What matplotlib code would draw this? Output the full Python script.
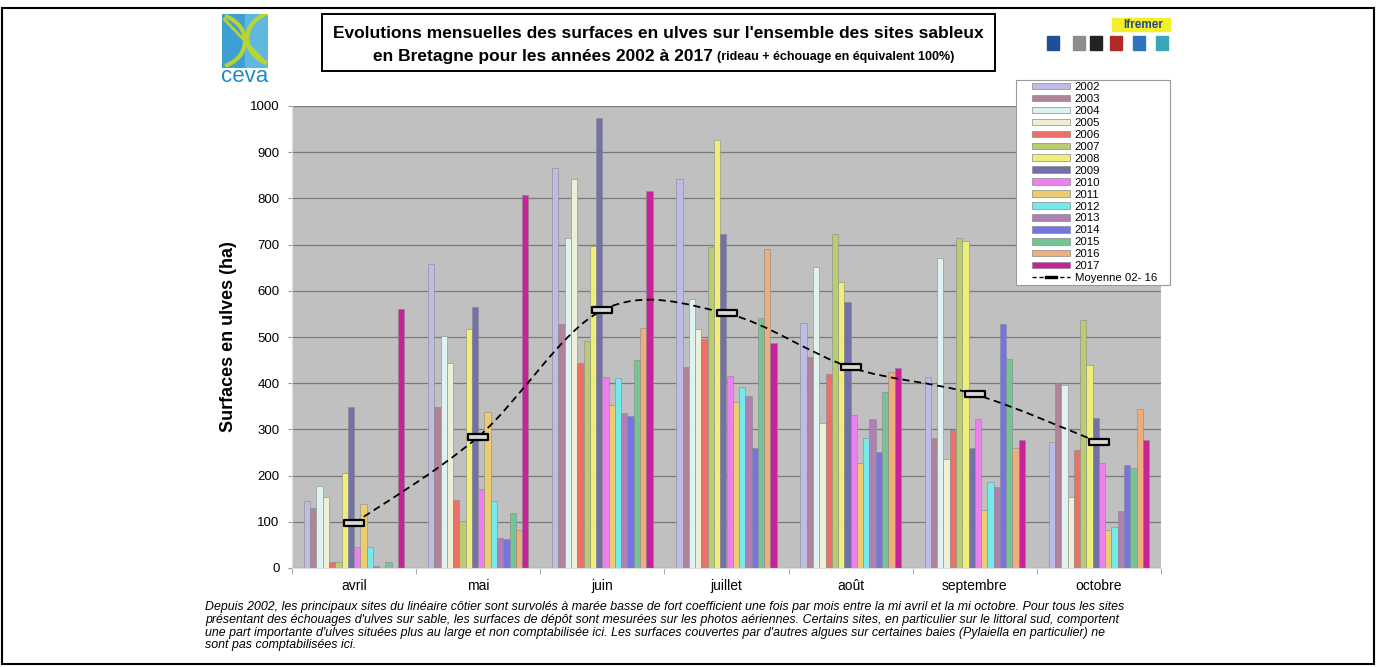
import numpy as np
import matplotlib
matplotlib.use("Agg")
import matplotlib.pyplot as plt
from matplotlib.patches import Rectangle, Patch, PathPatch, Arc
from matplotlib.lines import Line2D
from matplotlib.path import Path

plt.rcParams['font.family'] = ['Liberation Sans', 'DejaVu Sans']

months = ["avril", "mai", "juin", "juillet", "août", "septembre", "octobre"]
years = [str(y) for y in range(2002, 2018)]

# surfaces (ha) per year, one value per month avril..octobre
v2002 = [145, 658, 865, 842, 530, 414, 273]
v2003 = [129, 348, 528, 436, 456, 281, 400]
v2004 = [177, 503, 714, 582, 651, 670, 396]
v2005 = [153, 444, 843, 517, 313, 235, 153]
v2006 = [14, 147, 443, 495, 420, 299, 255]
v2007 = [12, 102, 492, 694, 723, 714, 537]
v2008 = [205, 517, 696, 926, 620, 708, 439]
v2009 = [349, 566, 973, 723, 576, 260, 324]
v2010 = [45, 172, 414, 416, 331, 323, 227]
v2011 = [139, 338, 353, 360, 227, 126, 82]
v2012 = [46, 144, 412, 392, 281, 187, 89]
v2013 = [4, 64, 335, 372, 323, 176, 123]
v2014 = [0, 62, 328, 259, 252, 528, 223]
v2015 = [13, 120, 450, 542, 382, 453, 216]
v2016 = [0, 82, 519, 690, 425, 259, 344]
v2017 = [560, 807, 817, 486, 432, 276, 276]
moyenne = [97, 284, 558, 551, 434, 376, 272]

series = [v2002, v2003, v2004, v2005, v2006, v2007, v2008, v2009,
          v2010, v2011, v2012, v2013, v2014, v2015, v2016, v2017]
colors = ["#bcbce6", "#b08498", "#dff2f2", "#efefd8", "#ec7068", "#b8cc70",
          "#eeee78", "#7272a8", "#ee80ee", "#eccc70", "#74eaea", "#ae80b4",
          "#7474e4", "#74c496", "#eeae7c", "#c8229a"]

W, H = 1376, 667
fig = plt.figure(figsize=(W / 100, H / 100), dpi=100)

def fx(px):
    return px / W

def fy(py):
    return 1 - py / H

# outer frame
fig.patches.append(Rectangle((fx(2), fy(664)), fx(1372), (664 - 8) / H,
                             transform=fig.transFigure, fill=False,
                             edgecolor="black", linewidth=1.5))

# main axes
ax = fig.add_axes([fx(292), fy(568), fx(1161 - 292), (568 - 106) / H])
ax.set_facecolor("#c0c0c0")
x = np.arange(len(months))
bw = 0.0505
for j, (vals, c) in enumerate(zip(series, colors)):
    ax.bar(x + (j - 7.5) * bw, vals, width=bw, color=c,
           edgecolor="#8a8a8a", linewidth=0.4, zorder=2)

# smoothed mean line (bezier through the monthly means)
pts = np.column_stack([x, moyenne]).astype(float)
verts = [pts[0]]
codes = [Path.MOVETO]
for i in range(len(pts) - 1):
    p0 = pts[max(i - 1, 0)]
    p1 = pts[i]
    p2 = pts[i + 1]
    p3 = pts[min(i + 2, len(pts) - 1)]
    verts += [p1 + (p2 - p0) / 6, p2 - (p3 - p1) / 6, p2]
    codes += [Path.CURVE4] * 3
ax.add_patch(PathPatch(Path(verts, codes), fill=False, edgecolor="black",
                       linewidth=1.3, linestyle=(0, (4, 2.5)), zorder=3))
box = Path([(-1, -0.26), (1, -0.26), (1, 0.26), (-1, 0.26), (-1, -0.26)],
           [Path.MOVETO, Path.LINETO, Path.LINETO, Path.LINETO, Path.CLOSEPOLY])
ax.plot(x, moyenne, linestyle="none", marker=box, markersize=14.5,
        markerfacecolor="#d8d8d8", markeredgecolor="black",
        markeredgewidth=1.6, zorder=4)

ax.set_xlim(-0.5, 6.5)
ax.set_ylim(0, 1000)
ax.set_yticks(np.arange(0, 1001, 100))
ax.yaxis.grid(True, color="#7a7a7a", linewidth=0.9)
ax.set_axisbelow(True)
ax.set_xticks(x)
ax.set_xticklabels(months, fontsize=10)
ax.set_xticks(np.arange(-0.5, 7, 1), minor=True)
ax.tick_params(axis="x", which="major", length=0, pad=8)
ax.tick_params(axis="x", which="minor", length=4, color="#999999")
ax.tick_params(axis="y", labelsize=9.5, length=3, color="#999999", pad=6)
for s in ["top", "right"]:
    ax.spines[s].set_visible(False)
ax.spines["left"].set_color("#dddddd")
ax.spines["bottom"].set_color("#dddddd")
ax.set_ylabel("Surfaces en ulves (ha)", fontsize=13, fontweight="bold",
              labelpad=9)

# legend (white box drawn by hand, legend itself frameless)
fig.patches.append(Rectangle((fx(1016), fy(285)), fx(1170 - 1016), (285 - 80) / H,
                             transform=fig.transFigure, facecolor="white",
                             edgecolor="#999999", linewidth=0.8, zorder=5))
handles = [Patch(facecolor=c, edgecolor="#8a8a8a", linewidth=0.5) for c in colors]
handles.append(Line2D([0], [0], color="black", linestyle=(0, (3, 2)),
                      linewidth=1, marker=box, markersize=8,
                      markerfacecolor="black"))
leg = fig.legend(handles, years + ["Moyenne 02- 16"], loc="upper left",
                 bbox_to_anchor=(fx(1031), fy(81)), fontsize=8.2,
                 frameon=False, handlelength=3.3, handleheight=0.5,
                 handletextpad=0.45, labelspacing=0.17, borderpad=0.1,
                 borderaxespad=0)
leg.set_zorder(6)

# title box
fig.patches.append(Rectangle((fx(322), fy(71)), fx(995 - 322), (71 - 14) / H,
                             transform=fig.transFigure, fill=False,
                             edgecolor="black", linewidth=1.4))
fig.text(fx(658), fy(33), "Evolutions mensuelles des surfaces en ulves sur l'ensemble des sites sableux",
         ha="center", va="center", fontsize=12.5, fontweight="bold")
fig.text(fx(713), fy(56), "en Bretagne pour les années 2002 à 2017",
         ha="right", va="center", fontsize=12.5, fontweight="bold")
fig.text(fx(717), fy(57), "(rideau + échouage en équivalent 100%)",
         ha="left", va="center", fontsize=9, fontweight="bold")

# ceva logo
lg = fig.add_axes([fx(222), fy(68), fx(46), 54 / H])
lg.set_xlim(0, 1)
lg.set_ylim(0, 1)
lg.axis("off")
lg.add_patch(Rectangle((0, 0), 1, 1, color="#3d9fd2"))
lg.add_patch(Rectangle((0.5, 0), 0.5, 1, color="#60b8de"))
lg.add_patch(Arc((1.25, 0.55), 1.4, 1.0, theta1=120, theta2=240, color="#b7d433", lw=3))
lg.add_patch(Arc((-0.2, 0.5), 1.4, 1.0, theta1=-60, theta2=60, color="#b7d433", lw=3))
lg.plot([0.05, 0.95], [0.9, 0.1], color="#b7d433", lw=2)
fig.text(fx(245), fy(77), "ceva", ha="center", va="center", fontsize=16,
         color="#1f8bc4")

# partner logos (top right)
fig.patches.append(Rectangle((fx(1112), fy(31)), fx(58), 13 / H,
                             transform=fig.transFigure, color="#f5ee2a"))
fig.text(fx(1143), fy(24.5), "Ifremer", ha="center", va="center", fontsize=8.5,
         fontweight="bold", color="#2a4a7a")
for px, c in zip([1047, 1073, 1090, 1110, 1133, 1156],
                 ["#1f4f9a", "#8c8c8c", "#222222", "#b02a2a", "#2e73c0", "#3aa7b8"]):
    fig.patches.append(Rectangle((fx(px), fy(50)), fx(12), 14 / H,
                                 transform=fig.transFigure, color=c))

# caption
caption = [
    "Depuis 2002, les principaux sites du linéaire côtier sont survolés à marée basse de fort coefficient une fois par mois entre la mi avril et la mi octobre. Pour tous les sites",
    "présentant des échouages d'ulves sur sable, les surfaces de dépôt sont mesurées sur les photos aériennes. Certains sites, en particulier sur le littoral sud, comportent",
    "une part importante d'ulves situées plus au large et non comptabilisée ici. Les surfaces couvertes par d'autres algues sur certaines baies (Pylaiella en particulier) ne",
    "sont pas comptabilisées ici.",
]
for k, line in enumerate(caption):
    fig.text(fx(205), fy(607 + 12.8 * k), line, ha="left", va="center",
             fontsize=8.9, style="italic")

fig.savefig("out.png", dpi=100)
